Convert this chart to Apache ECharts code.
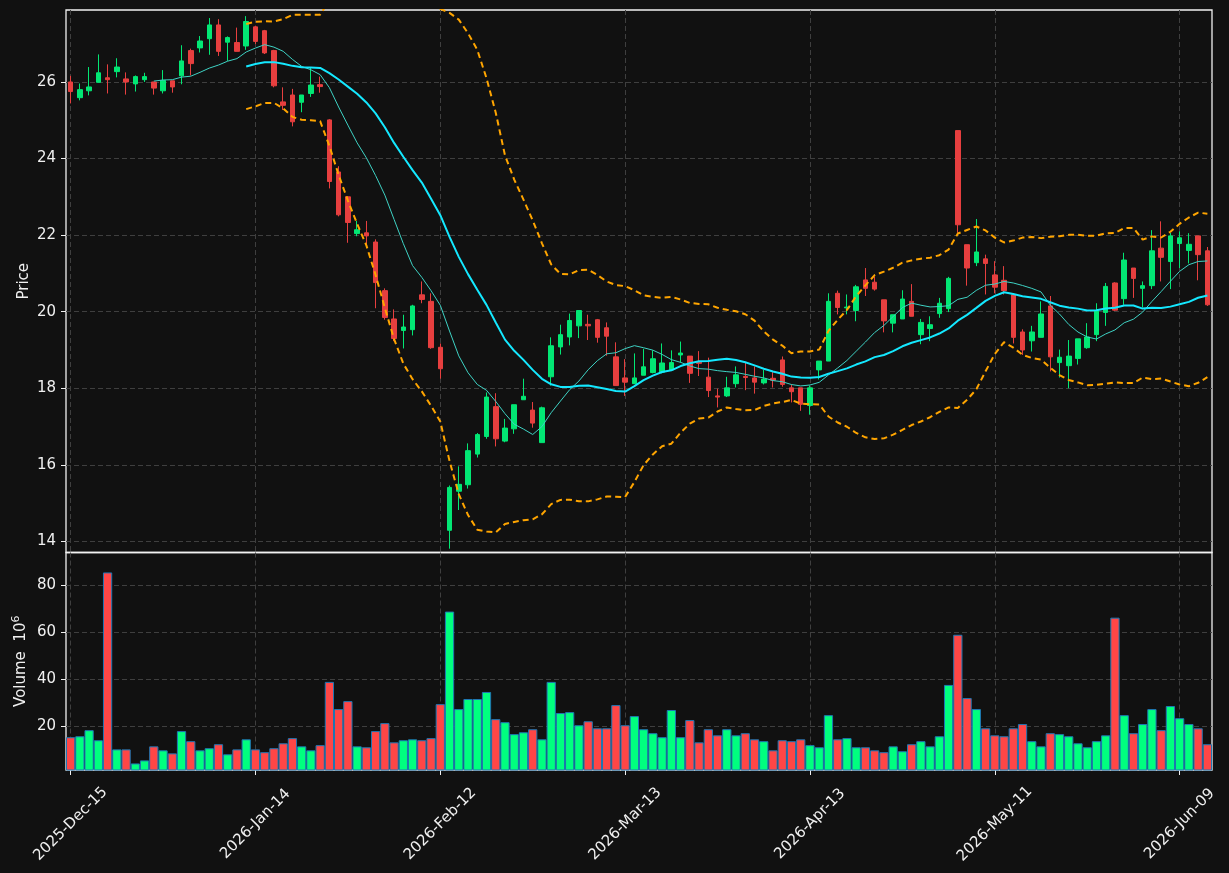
<!DOCTYPE html>
<html>
<head>
<meta charset="utf-8">
<script src="https://cdn.jsdelivr.net/npm/echarts@6/dist/echarts.min.js"></script>
<style>
html,body{margin:0;padding:0;background:#111111;}
#c{width:1229px;height:873px;}
</style>
</head>
<body>
<div id="c"></div>
<script>
// ---- data ----
const tickLabels = ['2025-Dec-15','2026-Jan-14','2026-Feb-12','2026-Mar-13','2026-Apr-13','2026-May-11','2026-Jun-09'];
const tickEvery = 20; // trading days between labelled ticks
const priceTicks = [14,16,18,20,22,24,26];
const volumeTicks = [20,40,60,80];

const open = [26.00,25.59,25.77,25.99,26.11,26.27,26.08,25.95,26.06,26.00,
25.77,26.03,26.16,26.82,26.89,27.13,27.49,27.04,27.03,26.94,
27.44,27.34,26.82,25.48,25.66,25.47,25.70,25.93,25.01,23.65,
23.00,22.04,22.06,21.82,20.55,19.81,19.51,19.53,20.44,20.27,
19.07,14.29,15.31,15.48,16.28,16.74,17.52,16.62,16.94,17.70,
17.43,16.58,18.30,19.08,19.34,19.63,19.67,19.79,19.58,18.82,
18.27,18.12,18.34,18.41,18.42,18.48,18.87,18.84,18.68,18.29,
17.80,17.80,18.12,18.31,18.27,18.14,18.26,18.74,18.01,18.01,
17.55,18.48,18.71,20.48,20.10,20.03,20.83,20.77,20.31,19.70,
19.81,20.27,19.40,19.56,19.95,20.08,24.73,21.75,21.28,21.38,
20.96,20.82,20.44,19.47,19.24,19.33,20.15,18.67,18.59,18.78,
19.06,19.40,19.98,20.75,20.34,21.14,20.61,20.68,21.66,21.31,
21.78,21.60,21.98,21.59];
const close = [25.75,25.80,25.87,26.24,26.06,26.39,26.00,26.14,26.14,25.84,
26.04,25.87,26.55,26.48,27.07,27.49,26.80,27.16,26.80,27.58,
27.06,26.76,25.90,25.39,24.96,25.66,25.92,25.88,23.40,22.53,
22.33,22.14,21.98,20.76,19.85,19.30,19.60,20.15,20.32,19.06,
18.51,15.41,15.49,16.37,16.79,17.77,16.68,16.96,17.57,17.79,
17.09,17.49,19.11,19.40,19.77,20.03,19.63,19.33,19.36,18.07,
18.16,18.27,18.56,18.77,18.66,18.67,18.92,18.39,18.65,17.94,
17.77,18.01,18.35,18.28,18.16,18.24,18.21,18.10,17.91,17.58,
18.01,18.71,20.27,20.11,20.12,20.65,20.61,20.59,19.76,19.92,
20.33,19.88,19.72,19.66,20.22,20.87,22.27,21.14,21.56,21.26,
20.64,20.55,19.33,19.00,19.47,19.94,18.82,18.81,18.84,19.29,
19.34,20.02,20.66,20.04,21.35,20.87,20.68,21.59,21.42,21.98,
21.93,21.76,21.49,20.18];
const low = [25.44,25.52,25.65,25.99,25.70,26.12,25.67,25.75,26.00,25.67,
25.70,25.72,25.94,26.17,26.77,26.71,26.68,26.55,26.80,26.84,
26.99,26.73,25.86,25.27,24.84,25.21,25.61,25.72,23.22,22.49,
21.80,21.97,21.69,20.09,19.79,19.23,19.04,19.38,20.22,19.03,
18.25,13.81,14.82,15.38,16.19,16.68,16.48,16.59,16.81,17.70,
16.97,16.58,18.07,18.88,19.12,19.31,19.26,19.19,18.85,18.07,
17.80,18.12,18.34,18.39,18.39,18.48,18.67,18.14,18.32,17.77,
17.50,17.77,18.02,17.95,17.86,18.10,18.02,18.04,17.63,17.41,
17.31,18.23,18.71,19.93,19.93,19.75,20.41,20.55,19.46,19.46,
19.81,19.88,19.15,19.23,19.84,19.99,22.06,20.68,21.19,20.45,
20.48,20.45,19.17,18.87,18.96,19.33,18.44,18.28,18.00,18.62,
19.03,19.23,19.63,20.02,20.18,20.36,20.11,20.59,20.79,20.59,
21.14,21.26,20.82,20.15];
const high = [26.16,25.96,26.39,26.72,26.46,26.62,26.25,26.17,26.24,26.00,
26.31,26.03,26.96,26.87,27.20,27.67,27.64,27.19,27.42,27.72,
27.47,27.36,26.84,25.86,25.82,25.66,26.37,26.14,25.03,23.80,
23.02,22.37,22.37,21.89,20.61,20.06,19.92,20.18,20.79,20.48,
19.17,15.46,15.96,16.56,16.83,17.89,17.87,17.20,17.57,18.25,
17.64,17.52,19.33,19.66,19.95,20.03,19.92,19.81,19.72,19.20,
18.76,18.91,19.03,18.99,19.17,18.99,19.22,18.84,18.97,18.80,
17.99,18.30,18.57,18.67,18.57,18.48,18.42,18.83,18.10,18.01,
18.07,18.71,20.48,20.55,20.45,20.70,21.14,20.91,20.31,19.92,
20.56,20.72,19.81,19.88,20.36,20.91,24.73,21.75,22.42,21.49,
21.32,21.19,20.44,19.54,19.63,20.27,20.41,19.01,19.26,19.29,
19.70,20.22,20.75,20.77,21.54,21.14,20.79,22.13,22.36,22.06,
22.10,22.05,21.98,21.69];
const volume = [15.3,15.7,18.3,14.0,85.6,10.1,10.1,4.1,5.4,11.4,
9.7,8.4,17.9,13.6,9.7,10.6,12.3,8.0,10.1,14.4,
10.1,8.9,10.6,12.7,14.9,11.4,9.7,11.9,38.9,27.3,
30.7,11.4,11.0,17.9,21.3,13.1,14.0,14.4,14.0,14.9,
29.4,68.9,27.3,31.6,31.6,34.6,23.0,21.7,16.6,17.4,
18.7,14.4,38.9,25.6,26.0,20.4,22.1,19.1,19.1,29.0,
20.4,24.3,18.7,17.0,15.3,26.9,15.3,22.6,13.1,18.7,
16.1,18.7,16.1,17.0,14.4,13.6,9.7,14.0,13.6,14.4,
11.9,11.0,24.7,14.4,14.9,11.0,11.0,9.7,8.9,11.4,
9.3,12.3,13.6,11.4,15.7,37.6,59.0,32.0,27.3,19.1,
16.1,15.7,19.1,20.9,13.6,11.4,17.0,16.6,15.7,12.7,
11.0,13.6,16.1,66.3,24.7,17.0,20.9,27.3,18.3,28.6,
23.4,20.9,19.1,12.3];

// ---- indicators derived from the closes (as in the original chart) ----
function sma(arr, n) {
  return arr.map((_, i) => {
    if (i < n - 1) return null;
    let s = 0;
    for (let k = i - n + 1; k <= i; k++) s += arr[k];
    return s / n;
  });
}
function band(arr, n, mult, sign) {
  const m = sma(arr, n);
  return arr.map((_, i) => {
    if (m[i] === null) return null;
    let s = 0;
    for (let k = i - n + 1; k <= i; k++) s += (arr[k] - m[i]) * (arr[k] - m[i]);
    return m[i] + sign * mult * Math.sqrt(s / n);
  });
}
const ma10 = sma(close, 10);
const ma20 = sma(close, 20);
const bbUpper = band(close, 20, 2, 1);
const bbLower = band(close, 20, 2, -1);

// ---- styles ----
const TXT = '#f0f0f0';
const GRIDC = '#3f3f3f';
const FS = 15;
const UP = '#02e774', DOWN = '#e73f3f';
const VUP = '#00ff7f', VDOWN = '#ff4646';

const cats = close.map((_, i) => String(i));
const isTick = (i) => i % tickEvery === 0;
const candleData = open.map((o, i) => [o, close[i], low[i], high[i]]);
const volData = volume.map((v, i) => ({
  value: v,
  itemStyle: { color: close[i] >= open[i] ? VUP : VDOWN }
}));

const dashed = { color: GRIDC, type: [5, 3], width: 1 };

const option = {
  backgroundColor: '#111111',
  animation: false,
  textStyle: { fontFamily: 'DejaVu Sans' },
  grid: [
    { left: 66, right: 17, top: 10, height: 542.5, show: true, borderColor: '#f2f2f2', borderWidth: 1.3 },
    { left: 66, right: 17, top: 552.5, height: 217.5, show: true, borderColor: '#f2f2f2', borderWidth: 1.3 }
  ],
  xAxis: [
    {
      type: 'category', gridIndex: 0, data: cats, boundaryGap: true,
      axisLine: { show: false }, axisTick: { show: false }, axisLabel: { show: false },
      splitLine: { show: true, interval: (i) => isTick(i), alignWithLabel: true, lineStyle: dashed }
    },
    {
      type: 'category', gridIndex: 1, data: cats, boundaryGap: true,
      axisLine: { show: false },
      axisTick: { show: true, interval: (i) => isTick(i), alignWithLabel: true, length: 5, lineStyle: { color: TXT, width: 1 } },
      axisLabel: {
        interval: (i) => isTick(i),
        formatter: (v) => tickLabels[Number(v) / tickEvery] || '',
        rotate: 45, align: 'center', verticalAlign: 'middle', margin: 54,
        color: TXT, fontSize: FS, fontFamily: 'DejaVu Sans'
      },
      splitLine: { show: true, interval: (i) => isTick(i), alignWithLabel: true, lineStyle: dashed }
    }
  ],
  yAxis: [
    {
      type: 'value', gridIndex: 0, min: 13.71, max: 27.88, splitNumber: 7,
      axisLine: { show: false },
      axisTick: { show: true, length: 5, customValues: priceTicks, lineStyle: { color: TXT, width: 1 } },
      axisLabel: { customValues: priceTicks, color: TXT, fontSize: FS, margin: 10, fontFamily: 'DejaVu Sans' },
      splitLine: { show: true, lineStyle: dashed },
      name: 'Price', nameLocation: 'middle', nameGap: 34, nameRotate: 90, nameMoveOverlap: false,
      nameTextStyle: { color: TXT, fontSize: FS, fontFamily: 'DejaVu Sans' }
    },
    {
      type: 'value', gridIndex: 1, min: 1.3, max: 94.1, splitNumber: 4,
      axisLine: { show: false },
      axisTick: { show: true, length: 5, customValues: volumeTicks, lineStyle: { color: TXT, width: 1 } },
      axisLabel: { customValues: volumeTicks, color: TXT, fontSize: FS, margin: 10, fontFamily: 'DejaVu Sans' },
      splitLine: { show: true, lineStyle: dashed },
      name: '{a|Volume  10}{b|6}', nameLocation: 'middle', nameGap: 35, nameRotate: 90, nameMoveOverlap: false,
      nameTextStyle: {
        color: TXT, fontSize: FS, fontFamily: 'DejaVu Sans',
        rich: {
          a: { color: TXT, fontSize: FS, lineHeight: 20, fontFamily: 'DejaVu Sans' },
          b: { color: TXT, fontSize: 11, lineHeight: 11, verticalAlign: 'top', fontFamily: 'DejaVu Sans' }
        }
      }
    }
  ],
  series: [
    {
      type: 'candlestick', xAxisIndex: 0, yAxisIndex: 0, data: candleData, barWidth: 5,
      itemStyle: { color: UP, color0: DOWN, borderColor: UP, borderColor0: DOWN, borderWidth: 1 }
    },
    {
      type: 'line', xAxisIndex: 0, yAxisIndex: 0, data: ma10, showSymbol: false, symbol: 'none',
      lineStyle: { color: '#3ed2c4', width: 1 }, z: 3
    },
    {
      type: 'line', xAxisIndex: 0, yAxisIndex: 0, data: ma20, showSymbol: false, symbol: 'none',
      lineStyle: { color: '#14e8ff', width: 2 }, z: 3
    },
    {
      type: 'line', xAxisIndex: 0, yAxisIndex: 0, data: bbUpper, showSymbol: false, symbol: 'none',
      lineStyle: { color: '#ffa500', width: 2, type: [6, 4] }, z: 3
    },
    {
      type: 'line', xAxisIndex: 0, yAxisIndex: 0, data: bbLower, showSymbol: false, symbol: 'none',
      lineStyle: { color: '#ffa500', width: 2, type: [6, 4] }, z: 3
    },
    {
      type: 'bar', xAxisIndex: 1, yAxisIndex: 1, data: volData, barCategoryGap: '0%',
      itemStyle: { borderColor: '#1f77b4', borderWidth: 1 }
    }
  ]
};

const chart = echarts.init(document.getElementById('c'), null, { renderer: 'canvas' });
chart.setOption(option);
</script>
</body>
</html>
